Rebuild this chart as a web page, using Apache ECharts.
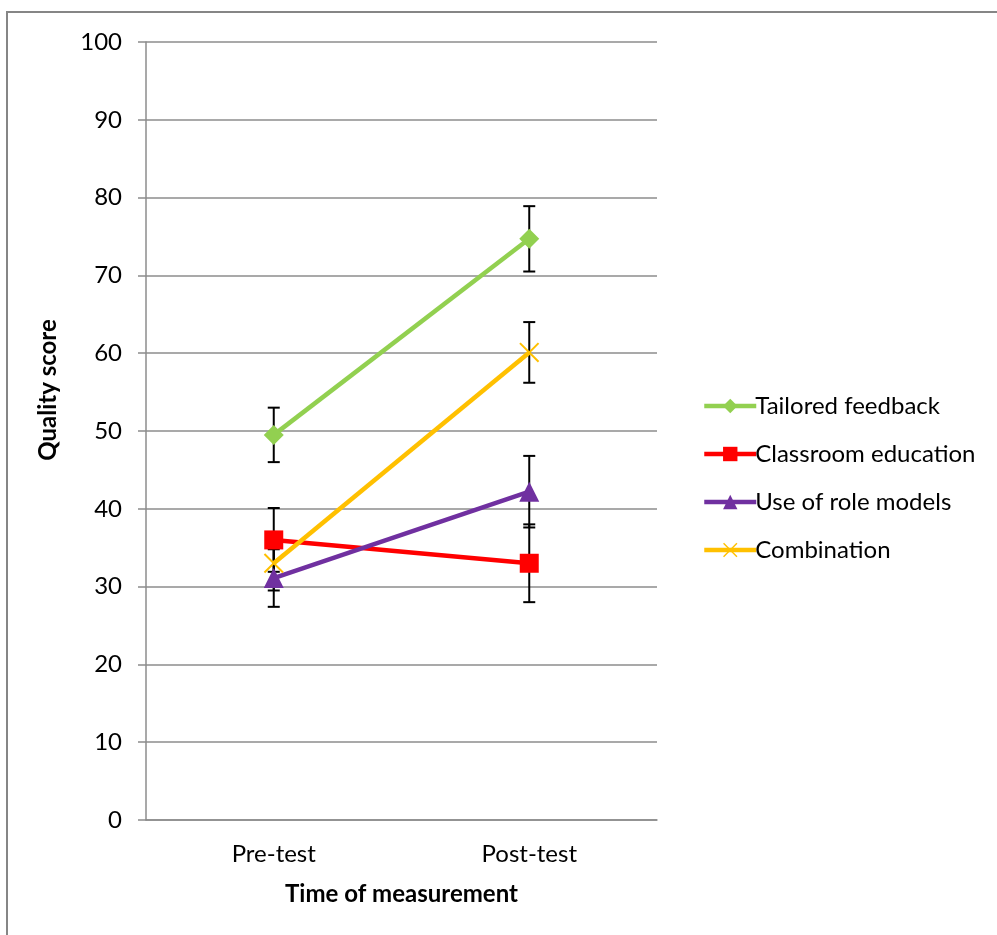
<!DOCTYPE html>
<html><head><meta charset="utf-8">
<script src="https://cdn.jsdelivr.net/npm/echarts@6/dist/echarts.min.js"></script>
<style>html,body{margin:0;padding:0;background:#fff}#c{width:997px;height:935px}</style>
</head><body><div id="c"></div>
<script>
const categories = ['Pre-test', 'Post-test'];
const yTicks = [0, 10, 20, 30, 40, 50, 60, 70, 80, 90, 100];
const seriesNames = ['Tailored feedback', 'Classroom education', 'Use of role models', 'Combination'];
const tailored = [49.5, 74.7];
const tailoredErr = [3.5, 4.2];
const classroom = [36.0, 33.0];
const classroomErr = [4.1, 5.0];
const roleModels = [31.1, 42.2];
const roleModelsErr = [3.7, 4.6];
const combination = [33.0, 60.1];
const combinationErr = [3.5, 3.9];

const colors = ['#92D050', '#FF0000', '#7030A0', '#FFC000'];
const symbols = ['diamond', 'rect', 'triangle',
  'path://M0,1.4L1.4,0L20,18.6L18.6,20ZM18.6,0L20,1.4L1.4,20L0,18.6Z'];
const symbolSizes = [20, 19, 20, 20];
const values = [tailored, classroom, roleModels, combination];
const errs = [tailoredErr, classroomErr, roleModelsErr, combinationErr];
const FONT = 'Lato';
const FS = 24;

const chart = echarts.init(document.getElementById('c'), null, {renderer: 'canvas'});

const errData = [];
values.forEach((vals, s) => vals.forEach((v, i) => errData.push([i, v - errs[s][i], v + errs[s][i]])));

const lineSeries = seriesNames.map((name, s) => ({
  name: name,
  type: 'line',
  data: values[s],
  symbol: symbols[s],
  symbolSize: symbolSizes[s],
  showAllSymbol: true,
  lineStyle: {color: colors[s], width: 4.5},
  itemStyle: {color: colors[s]},
  z: 5 + s
}));

const errorSeries = {
  type: 'custom',
  name: 'err',
  z: 3,
  silent: true,
  data: errData,
  renderItem: function (params, api) {
    const x = api.value(0);
    const lo = api.coord([x, api.value(1)]);
    const hi = api.coord([x, api.value(2)]);
    const hw = 6;
    const st = {stroke: '#000', lineWidth: 2};
    return {
      type: 'group',
      children: [
        {type: 'line', shape: {x1: lo[0], y1: lo[1], x2: hi[0], y2: hi[1]}, style: st},
        {type: 'line', shape: {x1: lo[0] - hw, y1: lo[1], x2: lo[0] + hw, y2: lo[1]}, style: st},
        {type: 'line', shape: {x1: hi[0] - hw, y1: hi[1], x2: hi[0] + hw, y2: hi[1]}, style: st}
      ]
    };
  }
};

chart.setOption({
  animation: false,
  backgroundColor: '#fff',
  textStyle: {fontFamily: FONT},
  grid: {left: 146, top: 42, width: 511, height: 778, containLabel: false},
  legend: {
    data: seriesNames.map((n, s) => ({name: n, lineStyle: {width: 4.5, color: colors[s]}})),
    orient: 'vertical',
    left: 697,
    top: 389,
    itemWidth: 52,
    itemHeight: 18,
    itemGap: 24,
    textStyle: {fontFamily: FONT, fontSize: FS, lineHeight: 24, color: '#000', padding: [0, 0, 0, -6]},
    selectedMode: false
  },
  xAxis: {
    type: 'category',
    data: categories,
    boundaryGap: true,
    axisLine: {lineStyle: {color: '#8c8c8c', width: 1.5}},
    axisTick: {show: false},
    axisLabel: {color: '#000', fontSize: FS, fontFamily: FONT, margin: 22},
    name: 'Time of measurement',
    nameLocation: 'middle',
    nameGap: 62,
    nameTextStyle: {color: '#000', fontSize: FS, fontWeight: 'bold', fontFamily: FONT}
  },
  yAxis: {
    type: 'value',
    min: yTicks[0],
    max: yTicks[yTicks.length - 1],
    interval: yTicks[1] - yTicks[0],
    axisLine: {show: true, lineStyle: {color: '#8c8c8c', width: 1.5}},
    axisTick: {show: true, length: 8, lineStyle: {color: '#8c8c8c', width: 1.5}},
    axisLabel: {color: '#000', fontSize: FS, fontFamily: FONT, margin: 24},
    splitLine: {show: true, lineStyle: {color: '#8c8c8c', width: 1.5}}
  },
  graphic: [
    {type: 'rect', shape: {x: 7, y: 12, width: 1200, height: 1200},
     style: {fill: 'none', stroke: '#868686', lineWidth: 2}, z: -1, silent: true},
    {type: 'text', x: 48, y: 390, rotation: Math.PI / 2,
     style: {text: 'Quality score', fill: '#000', font: 'bold ' + FS + 'px ' + FONT, align: 'center', verticalAlign: 'middle'}}
  ],
  series: [errorSeries].concat(lineSeries)
});
</script>
</body></html>
